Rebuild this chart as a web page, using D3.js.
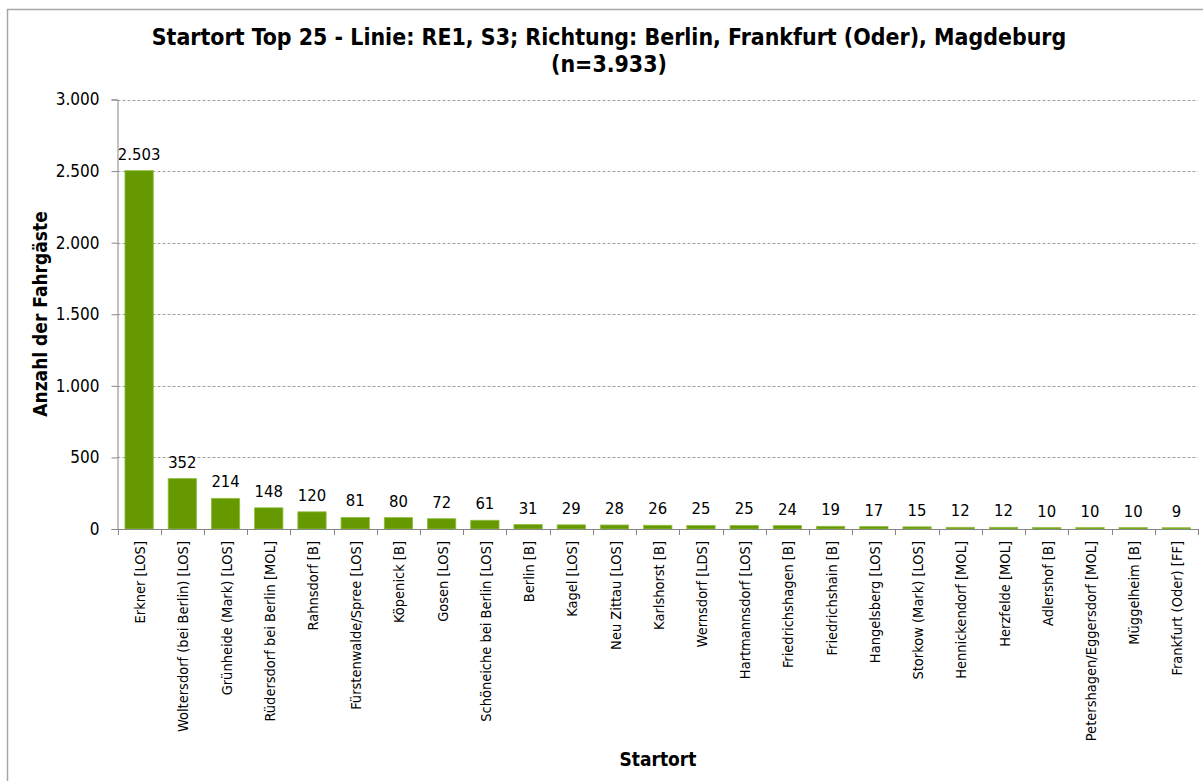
<!DOCTYPE html>
<html>
<head>
<meta charset="utf-8">
<script src="https://cdn.jsdelivr.net/npm/d3@7"></script>
<style>
  body { margin: 0; background: #fff; }
  text { font-family: "DejaVu Sans Condensed", "DejaVu Sans", sans-serif; fill: #000; }
</style>
</head>
<body>
<div id="chart"></div>
<script>
var categories = ["Erkner [LOS]", "Woltersdorf (bei Berlin) [LOS]", "Grünheide (Mark) [LOS]",
    "Rüdersdorf bei Berlin [MOL]", "Rahnsdorf [B]", "Fürstenwalde/Spree [LOS]", "Köpenick [B]",
    "Gosen [LOS]", "Schöneiche bei Berlin [LOS]", "Berlin [B]", "Kagel [LOS]", "Neu Zittau [LOS]",
    "Karlshorst [B]", "Wernsdorf [LDS]", "Hartmannsdorf [LOS]", "Friedrichshagen [B]",
    "Friedrichshain [B]", "Hangelsberg [LOS]", "Storkow (Mark) [LOS]", "Hennickendorf [MOL]",
    "Herzfelde [MOL]", "Adlershof [B]", "Petershagen/Eggersdorf [MOL]", "Müggelheim [B]",
    "Frankfurt (Oder) [FF]"];
var values = [2503, 352, 214, 148, 120, 81, 80, 72, 61, 31, 29, 28, 26, 25, 25, 24, 19, 17, 15, 12, 12, 10, 10, 10, 9];
var yTicks = [0, 500, 1000, 1500, 2000, 2500, 3000];
var titleLines = ["Startort Top 25 - Linie: RE1, S3; Richtung: Berlin, Frankfurt (Oder), Magdeburg", "(n=3.933)"];

function init(){
    var w = 1203;
    var h = 781;
    var left = 117.5, right = 1198, top = 99.5, bottom = 529;

    var de = d3.formatLocale({decimal: ",", thousands: ".", grouping: [3], currency: ["", " €"]});
    var fmt = de.format(",d");

    var svg = d3.select("#chart")
            .append("svg")
            .attr("width", w)
            .attr("height", h);

    // outer chart frame
    svg.append("rect")
        .attr("x", 7.5).attr("y", 9.5)
        .attr("width", 1220).attr("height", 800)
        .attr("fill", "none")
        .attr("stroke", "#a6a6a6")
        .attr("stroke-width", 1.5);

    var xScale = d3.scaleBand()
                .domain(categories)
                .range([left, right])
                .paddingInner(0.345)
                .paddingOuter(0.1725);

    var yScale = d3.scaleLinear()
                .domain([0, 3000])
                .range([bottom, top]);

    // gridlines
    svg.append("g")
        .selectAll("line")
        .data(yTicks.filter(function(d){ return d > 0; }))
        .enter()
        .append("line")
        .attr("x1", left).attr("x2", right)
        .attr("y1", function(d){ return Math.round(yScale(d)) + 0.5; })
        .attr("y2", function(d){ return Math.round(yScale(d)) + 0.5; })
        .attr("stroke", "#a0a0a0")
        .attr("stroke-dasharray", "3,2");

    // bars
    svg.append("g")
        .selectAll("rect")
        .data(values)
        .enter()
        .append("rect")
        .attr("x", function(d, i){ return xScale(categories[i]); })
        .attr("y", function(d){ return yScale(d); })
        .attr("width", xScale.bandwidth())
        .attr("height", function(d){ return bottom - yScale(d); })
        .attr("fill", "#669900")
        .attr("stroke", "#8fc040")
        .attr("stroke-width", 0.8);

    // value labels
    svg.append("g")
        .selectAll("text")
        .data(values)
        .enter()
        .append("text")
        .attr("x", function(d, i){ return xScale(categories[i]) + xScale.bandwidth() / 2; })
        .attr("y", function(d){ return yScale(d) - 11; })
        .attr("text-anchor", "middle")
        .style("font-size", "16.5px")
        .text(function(d){ return fmt(d); });

    // y axis
    var yAxis = d3.axisLeft(yScale)
                .tickValues(yTicks)
                .tickSize(6)
                .tickPadding(12)
                .tickFormat(fmt);
    var gy = svg.append("g")
        .attr("transform", "translate(" + left + ",0)")
        .call(yAxis);
    gy.selectAll("path, line").attr("stroke", "#868686");
    gy.selectAll("text").style("font-size", "17px");
    gy.attr("font-family", null);

    // x axis with ticks at band boundaries
    var xAxis = d3.axisBottom(xScale).tickSize(0).tickPadding(0).tickFormat("");
    var gx = svg.append("g")
        .attr("transform", "translate(0," + bottom + ")")
        .call(xAxis);
    gx.select("path").attr("stroke", "#868686").attr("d", "M" + left + ",0.5H" + right);
    var step = xScale.step();
    gx.selectAll(".bound")
        .data(d3.range(categories.length + 1))
        .enter()
        .append("line")
        .attr("class", "bound")
        .attr("x1", function(i){ return Math.round(left + i * step) + 0.5; })
        .attr("x2", function(i){ return Math.round(left + i * step) + 0.5; })
        .attr("y1", 0).attr("y2", 6)
        .attr("stroke", "#868686");

    // category labels
    svg.append("g")
        .selectAll("text")
        .data(categories)
        .enter()
        .append("text")
        .attr("transform", function(d){
            return "translate(" + (xScale(d) + xScale.bandwidth() / 2 + 6) + "," + 541 + ") rotate(-90)";
        })
        .attr("text-anchor", "end")
        .style("font-size", "14.5px")
        .text(function(d){ return d; });

    // title
    svg.append("g")
        .selectAll("text")
        .data(titleLines)
        .enter()
        .append("text")
        .attr("x", 609)
        .attr("y", function(d, i){ return 45 + i * 27; })
        .attr("text-anchor", "middle")
        .style("font-size", "22.9px")
        .style("font-weight", "bold")
        .text(function(d){ return d; });

    svg.append("text")
        .attr("transform", "translate(47,314) rotate(-90)")
        .attr("text-anchor", "middle")
        .style("font-size", "19px")
        .style("font-weight", "bold")
        .text("Anzahl der Fahrgäste");

    svg.append("text")
        .attr("x", 658)
        .attr("y", 766)
        .attr("text-anchor", "middle")
        .style("font-size", "19px")
        .style("font-weight", "bold")
        .text("Startort");
}

window.onload = init;
</script>
</body>
</html>
